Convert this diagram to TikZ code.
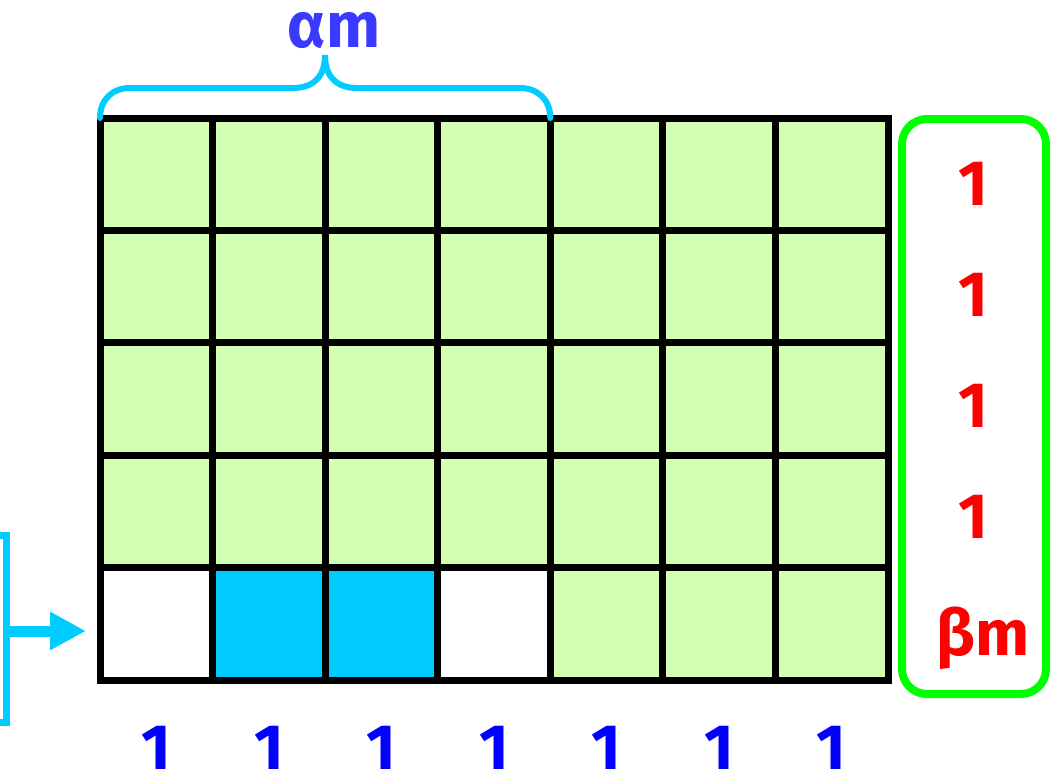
\documentclass[tikz,border=0pt]{standalone}
\usepackage{fontspec}
\setmainfont{Fira Sans}
\usetikzlibrary{arrows.meta,positioning}
\definecolor{matInk}{HTML}{000000}
\definecolor{matGreen}{HTML}{D4FEB1}
\definecolor{matCyan}{HTML}{00CCFF}
\definecolor{matBox}{HTML}{00FF00}
\definecolor{matRed}{HTML}{FF0000}
\definecolor{matBlue}{HTML}{0000FF}
\definecolor{matViolet}{HTML}{3939FF}
\tikzset{
  mat/cell/.style={draw=matInk, line width=7pt, fill=matGreen,
    minimum width=112.57pt, minimum height=112.4pt, inner sep=0pt, outer sep=0pt},
  mat/label/.style={font=\fontsize{64pt}{66pt}\selectfont\bfseries, inner sep=0pt, anchor=base},
  mat/brace/.style={draw=matCyan, line width=6pt, line cap=round},
  mat/bracket/.style={draw=matCyan, line width=7pt},
  mat/arrow/.style={-{Triangle[length=36pt,width=36pt]}, draw=matCyan, line width=11pt},
  mat/sumbox/.style={draw=matBox, line width=8pt, rounded corners=25pt,
    minimum width=144pt, minimum height=575pt, inner sep=0pt},
}

\begin{document}
\begin{tikzpicture}[x=1pt, y=-1pt]
\useasboundingbox (0,0) rectangle (1057,784);

% ===== Grid: four full rows =====
\foreach \r in {1,...,4}
  \foreach \c in {1,...,7}
    \node[mat/cell] (c-\r-\c) at ({100+112.57*(\c-0.5)}, {118+112.4*(\r-0.5)}) {};

% ===== Grid: last row =====
\foreach \c/\f in {1/white,2/matCyan,3/matCyan,4/white,5/matGreen,6/matGreen,7/matGreen}
  \node[mat/cell, fill=\f] (c-5-\c) at ({100+112.57*(\c-0.5)}, {118+112.4*4.5}) {};

% ===== Brace over the first four columns =====
\coordinate (brace-l) at (c-1-1.north west);
\coordinate (brace-r) at (c-1-4.north east);
\draw[mat/brace] (brace-l) .. controls +(0,-18) and +(-18,0) .. ++(30,-30)
  -- ++(163,0) .. controls +(22,0) and +(0,20) .. ++(32,-33)
  .. controls +(0,20) and +(-22,0) .. ++(32,33)
  -- ++(163,0) .. controls +(18,0) and +(0,-18) .. (brace-r);
\node[mat/label, text=matViolet] (alpha) at (334,48) {αm};

% ===== Right column: row sums =====
\node[mat/sumbox] (sumbox) at (974,406.5) {};
\foreach \r/\y in {1/205,2/316,3/427,4/538}
  \node[mat/label, text=matRed] (rsum-\r) at (973,\y) {1};
\node[mat/label, text=matRed] (rsum-5) at (983,655) {βm};

% ===== Bottom: column sums =====
\foreach \c in {1,...,7}
  \node[mat/label, text=matBlue] (csum-\c) at ({100+112.57*(\c-0.5)}, 769) {1};

% ===== Left bracket and arrow =====
\draw[mat/bracket] (-10,535) -- (6,535) -- (6,722) -- (-10,722);
\coordinate (arr-s) at (6,631);
\coordinate (arr-e) at (86,631);
\draw[mat/arrow] (arr-s) -- (arr-e);

\end{tikzpicture}
\end{document}
